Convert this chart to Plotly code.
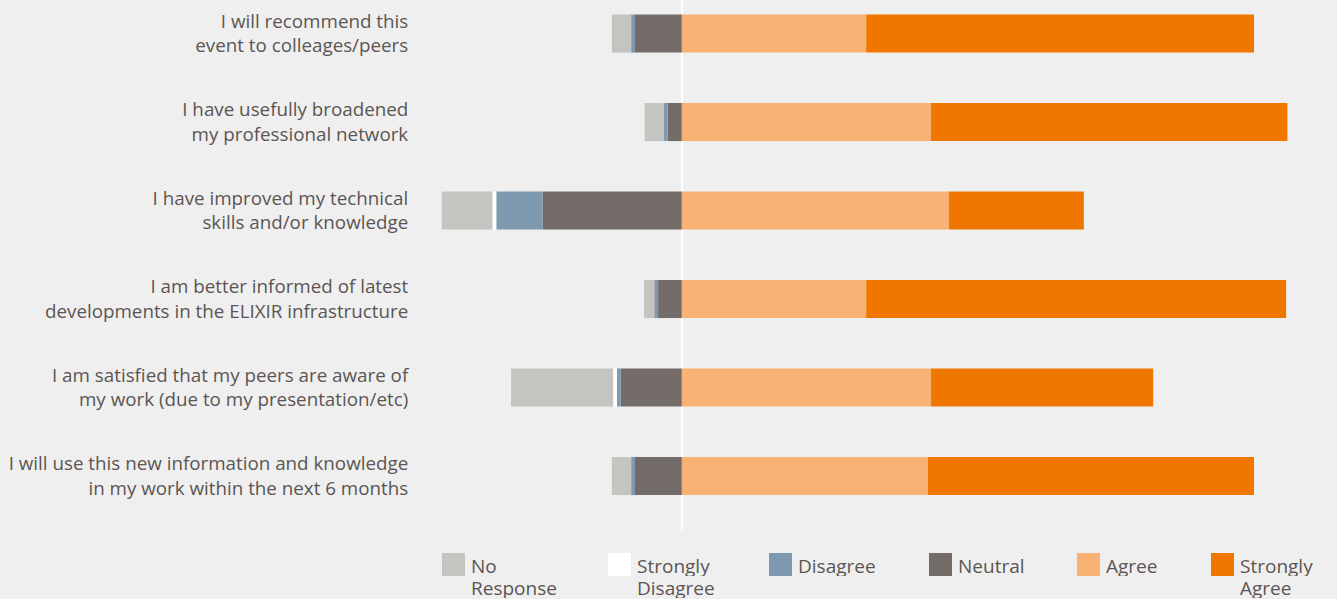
import plotly.graph_objects as go

categories = [
    "I will recommend this<br>event to colleages/peers",
    "I have usefully broadened<br>my professional network",
    "I have improved my technical<br>skills and/or knowledge",
    "I am better informed of latest<br>developments in the ELIXIR infrastructure",
    "I am satisfied that my peers are aware of<br>my work (due to my presentation/etc)",
    "I will use this new information and knowledge<br>in my work within the next 6 months",
]

no_response = [3.0, 3.0, 7.9, 1.6, 15.9, 3.0]
strongly_disagree = [0.0, 0.0, 0.6, 0.0, 0.6, 0.0]
disagree = [0.6, 0.6, 7.2, 0.6, 0.6, 0.6]
neutral = [7.3, 2.2, 21.7, 3.7, 9.5, 7.3]
agree = [28.7, 38.8, 41.6, 28.7, 38.8, 38.3]
strongly_agree = [60.4, 55.5, 21.0, 65.4, 34.6, 50.8]

legend_labels = [["No", "Response"], ["Strongly", "Disagree"], ["Disagree"], ["Neutral"], ["Agree"], ["Strongly", "Agree"]]
colors = {
    "nr": "#c6c4c1",
    "sd": "#ffffff",
    "dis": "#7f9ab0",
    "neu": "#736c68",
    "agr": "#f8b273",
    "sa": "#ef7700",
}

BG = "#efefef"
TXT = "#5b5553"
FONT = "Open Sans"

fig = go.Figure()
bw = 0.43
# negative side, stacked outward from zero
for vals, c in [(neutral, colors["neu"]), (disagree, colors["dis"]),
                (strongly_disagree, colors["sd"]), (no_response, colors["nr"])]:
    fig.add_trace(go.Bar(y=categories, x=[-v for v in vals], orientation="h",
                         marker=dict(color=c, line=dict(width=0)), width=bw,
                         showlegend=False))
for vals, c in [(agree, colors["agr"]), (strongly_agree, colors["sa"])]:
    fig.add_trace(go.Bar(y=categories, x=vals, orientation="h",
                         marker=dict(color=c, line=dict(width=0)), width=bw,
                         showlegend=False))

W, H = 1337, 599
ml, mr, mt, mb = 425, 13, 0, 69
pw = W - ml - mr
ph = H - mt - mb

def px2paper(x, y):
    return (x - ml) / pw, 1 - (y - mt) / ph

leg_x = [442, 608, 769, 929, 1077, 1211]
leg_cols = [colors["nr"], colors["sd"], colors["dis"], colors["neu"], colors["agr"], colors["sa"]]
shapes = []
annotations = []
for lx, lines, col in zip(leg_x, legend_labels, leg_cols):
    x0, y0 = px2paper(lx, 553)
    x1, y1 = px2paper(lx + 23, 576)
    shapes.append(dict(type="rect", xref="paper", yref="paper", x0=x0, x1=x1, y0=y1, y1=y0,
                       fillcolor=col, line=dict(width=0)))
    for i, ln in enumerate(lines):
        ax, ay = px2paper(lx + 28, 566 + 22 * i)
        annotations.append(dict(xref="paper", yref="paper", x=ax, y=ay, xanchor="left", yanchor="middle",
                                text=ln, showarrow=False, align="left", height=20, borderpad=0,
                                font=dict(family=FONT, size=19, color=TXT)))

fig.update_layout(
    barmode="relative",
    width=W, height=H,
    margin=dict(l=ml, r=mr, t=mt, b=mb),
    paper_bgcolor=BG, plot_bgcolor=BG,
    font=dict(family=FONT, size=19, color=TXT),
    shapes=shapes,
    annotations=annotations,
    xaxis=dict(range=[-40, 100], showgrid=False, showticklabels=False, zeroline=True,
               zerolinecolor="#ffffff", zerolinewidth=2, fixedrange=True),
    yaxis=dict(range=[5.61, -0.379], showgrid=False, ticks="outside", ticklen=12,
               tickcolor=BG, tickfont=dict(family=FONT, size=18.8, color=TXT),
               zeroline=False),
)

fig.write_html("out.html", config={"displayModeBar": False},
               post_script="document.body.style.margin='0';document.body.style.background='%s';" % BG)
